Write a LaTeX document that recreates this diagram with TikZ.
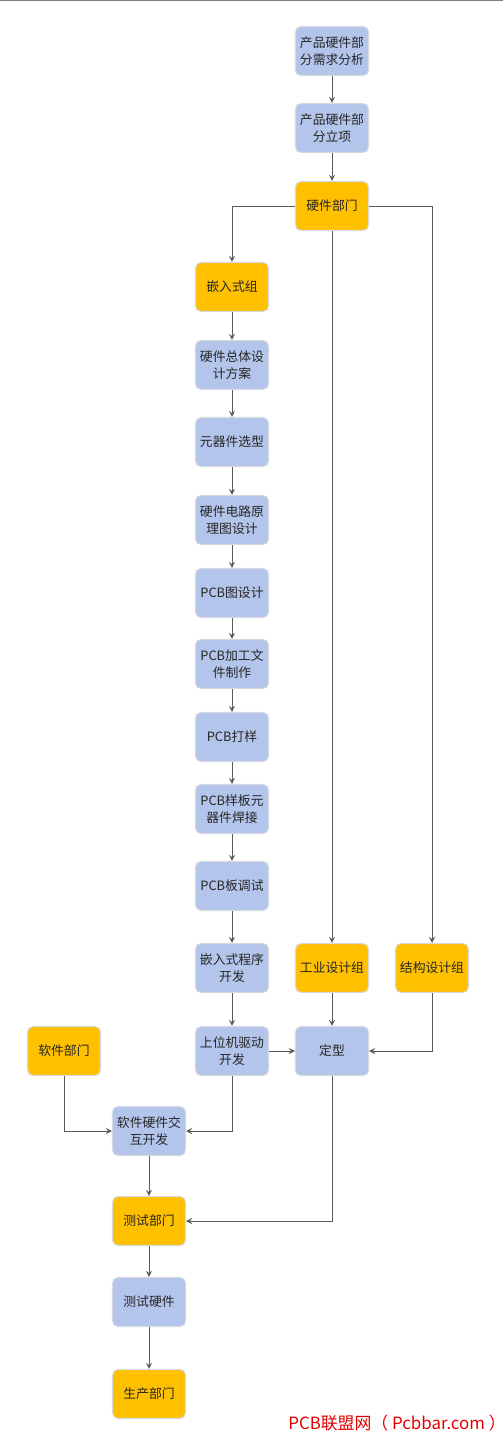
\documentclass[tikz,border=0pt]{standalone}
\usepackage{fontspec}
\setmainfont{Noto Sans CJK SC}
\usetikzlibrary{shapes,arrows,positioning,fit,calc,backgrounds}

\definecolor{stepblue}{HTML}{B4C5EB}
\definecolor{deptgold}{HTML}{FFC000}
\definecolor{rimgray}{HTML}{D6D9DF}
\definecolor{wiregray}{HTML}{5A5A5A}

\begin{document}
\begin{tikzpicture}[
    x=0.02cm, y=-0.02cm,
    % Node styles
    stepbox/.style={draw=rimgray, line width=0.6pt, rounded corners=0.11cm, fill=stepblue,
        minimum width=1.46cm, minimum height=0.98cm, inner sep=1pt, align=center,
        text=black!85, font=\fontsize{7.3}{9.7}\selectfont},
    deptbox/.style={stepbox, fill=deptgold},
    edge/.style={-stealth, line width=0.55pt, draw=wiregray},
    watermark/.style={text=red!90!black, font=\fontsize{9.6}{11}\selectfont},
]

\useasboundingbox (0,0) rectangle (503,1437);
\fill[white] (0,0) rectangle (503,1437);
\draw[gray, line width=1pt] (0,0.5) -- (503,0.5);

% ============================================================
% Product stage
% ============================================================
\node[stepbox] (needs) at (332, 51) {产品硬件部\\分需求分析};
\node[stepbox] (project) at (332, 128) {产品硬件部\\分立项};
\node[deptbox] (hwdept) at (332, 206) {硬件部门};

% ============================================================
% Embedded group column
% ============================================================
\node[deptbox] (embgrp) at (232, 287) {嵌入式组};
\node[stepbox] (overall) at (232, 365) {硬件总体设\\计方案};
\node[stepbox] (parts) at (232, 442) {元器件选型};
\node[stepbox] (schematic) at (232, 520) {硬件电路原\\理图设计};
\node[stepbox] (pcbdesign) at (232, 593) {PCB图设计};
\node[stepbox] (pcbfiles) at (232, 664) {PCB加工文\\件制作};
\node[stepbox] (pcbproto) at (232, 737) {PCB打样};
\node[stepbox] (pcbsolder) at (232, 809) {PCB样板元\\器件焊接};
\node[stepbox] (pcbdebug) at (232, 886) {PCB板调试};
\node[stepbox] (firmware) at (232, 968) {嵌入式程序\\开发};
\node[stepbox] (hostdrv) at (232, 1051) {上位机驱动\\开发};

% ============================================================
% Design groups
% ============================================================
\node[deptbox] (indgrp) at (332, 968) {工业设计组};
\node[deptbox] (structgrp) at (432, 968) {结构设计组};
\node[stepbox] (finalize) at (332, 1051) {定型};

% ============================================================
% Software, test, production
% ============================================================
\node[deptbox] (swdept) at (64, 1051) {软件部门};
\node[stepbox] (swhwdev) at (149, 1131) {软件硬件交\\互开发};
\node[deptbox] (testdept) at (149, 1221) {测试部门};
\node[stepbox] (testhw) at (149, 1302) {测试硬件};
\node[deptbox] (proddept) at (149, 1394) {生产部门};

% ============================================================
% Edges
% ============================================================
\draw[edge] (needs) -- (project);
\draw[edge] (project) -- (hwdept);

\draw[edge] (hwdept.west) -| (embgrp);
\draw[edge] (hwdept) -- (indgrp);
\draw[edge] (hwdept.east) -| (structgrp);

\draw[edge] (embgrp) -- (overall);
\draw[edge] (overall) -- (parts);
\draw[edge] (parts) -- (schematic);
\draw[edge] (schematic) -- (pcbdesign);
\draw[edge] (pcbdesign) -- (pcbfiles);
\draw[edge] (pcbfiles) -- (pcbproto);
\draw[edge] (pcbproto) -- (pcbsolder);
\draw[edge] (pcbsolder) -- (pcbdebug);
\draw[edge] (pcbdebug) -- (firmware);
\draw[edge] (firmware) -- (hostdrv);

\draw[edge] (indgrp) -- (finalize);
\draw[edge] (structgrp) |- (finalize);
\draw[edge] (hostdrv) -- (finalize);

\draw[edge] (hostdrv) |- (swhwdev);
\draw[edge] (swdept) |- (swhwdev);
\draw[edge] (swhwdev) -- (testdept);
\draw[edge] (finalize) |- (testdept);
\draw[edge] (testdept) -- (testhw);
\draw[edge] (testhw) -- (proddept);

% ============================================================
% Watermark
% ============================================================
\node[watermark] (mark) at (397, 1423) {PCB联盟网（ Pcbbar.com ）};

\end{tikzpicture}
\end{document}
